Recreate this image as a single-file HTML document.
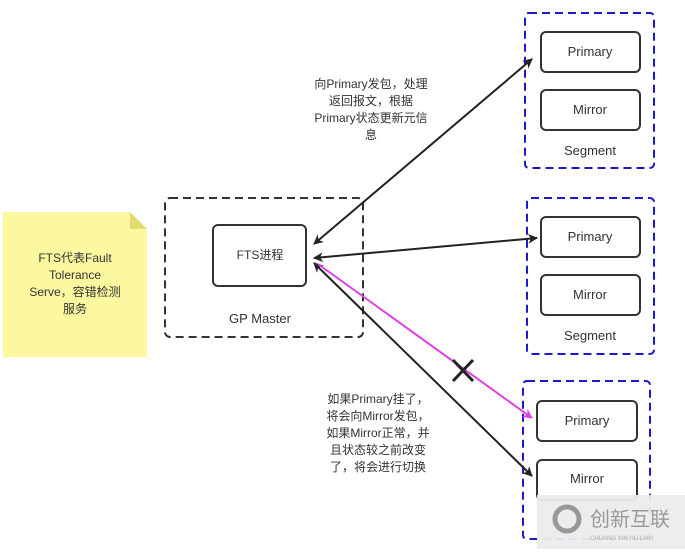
<!DOCTYPE html>
<html><head><meta charset="utf-8"><style>
body{margin:0;background:#fff;width:685px;height:549px;overflow:hidden}
svg text{font-family:"Liberation Sans","Noto Sans CJK SC",sans-serif;fill:#333}
</style></head><body>
<svg width="685" height="549" xmlns="http://www.w3.org/2000/svg">
<defs>
<marker id="ab" markerWidth="10" markerHeight="10" refX="9" refY="5" orient="auto" markerUnits="userSpaceOnUse"><path d="M0,0 L10,5 L0,10 L3,5z" fill="#222"/></marker>
<marker id="ap" markerWidth="10" markerHeight="10" refX="9" refY="5" orient="auto" markerUnits="userSpaceOnUse"><path d="M0,0 L10,5 L0,10 L3,5z" fill="#e040e0"/></marker>
<marker id="as" markerWidth="10" markerHeight="10" refX="1" refY="5" orient="auto" markerUnits="userSpaceOnUse"><path d="M10,0 L0,5 L10,10 L7,5z" fill="#222"/></marker>
</defs>
<!-- note -->
<path d="M3,212 H130 L147,229 V357 H3 Z" fill="#fbf8a0"/>
<path d="M130,212 V229 H147 Z" fill="#e0dc70"/>
<text font-size="12" text-anchor="middle"><tspan x="75" y="262">FTS代表Fault</tspan><tspan x="75" y="279">Tolerance</tspan><tspan x="75" y="296">Serve，容错检测</tspan><tspan x="75" y="313">服务</tspan></text>
<!-- GP master -->
<rect x="165" y="198" width="198" height="139" rx="5" fill="none" stroke="#333" stroke-width="2" stroke-dasharray="8,5"/>
<rect x="213" y="225" width="93" height="61" rx="5" fill="#fff" stroke="#333" stroke-width="2"/>
<text x="260" y="259" font-size="12" text-anchor="middle">FTS进程</text>
<text x="260" y="323" font-size="13" text-anchor="middle">GP Master</text>
<!-- segments -->
<g fill="none" stroke="#1a1acc" stroke-width="2" stroke-dasharray="8,5">
<rect x="525" y="13" width="129" height="155" rx="4"/>
<rect x="527" y="198" width="127" height="156" rx="4"/>
<rect x="523" y="381" width="127" height="158" rx="4"/>
</g>
<g fill="#fff" stroke="#333" stroke-width="2">
<rect x="541" y="32" width="99" height="40" rx="5"/>
<rect x="541" y="90" width="99" height="40" rx="5"/>
<rect x="541" y="217" width="99" height="40" rx="5"/>
<rect x="541" y="275" width="99" height="40" rx="5"/>
<rect x="537" y="401" width="100" height="40" rx="5"/>
<rect x="537" y="460" width="100" height="40" rx="5"/>
</g>
<g font-size="13" text-anchor="middle">
<text x="590" y="56">Primary</text><text x="590" y="114">Mirror</text><text x="590" y="155">Segment</text>
<text x="590" y="241">Primary</text><text x="590" y="299">Mirror</text><text x="590" y="340">Segment</text>
<text x="587" y="425">Primary</text><text x="587" y="483">Mirror</text>
</g>
<!-- arrows -->
<g stroke="#222" stroke-width="2" fill="none">
<line x1="314" y1="244" x2="532" y2="59" marker-start="url(#as)" marker-end="url(#ab)"/>
<line x1="314" y1="258" x2="537" y2="238" marker-start="url(#as)" marker-end="url(#ab)"/>
<line x1="314" y1="263" x2="532" y2="476" marker-start="url(#as)" marker-end="url(#ab)"/>
</g>
<line x1="318" y1="264" x2="532" y2="418" stroke="#e040e0" stroke-width="2" marker-end="url(#ap)"/>
<g stroke="#222" stroke-width="3"><line x1="453" y1="360" x2="473" y2="381"/><line x1="473" y1="360" x2="453" y2="381"/></g>
<g font-size="12" text-anchor="middle">
<text><tspan x="371" y="88">向Primary发包，处理</tspan><tspan x="371" y="105">返回报文，根据</tspan><tspan x="371" y="122">Primary状态更新元信</tspan><tspan x="371" y="139">息</tspan></text>
<text><tspan x="378" y="403">如果Primary挂了，</tspan><tspan x="378" y="420">将会向Mirror发包，</tspan><tspan x="378" y="437">如果Mirror正常，并</tspan><tspan x="378" y="454">且状态较之前改变</tspan><tspan x="378" y="471">了，将会进行切换</tspan></text>
</g>
<!-- watermark -->
<rect x="537" y="495" width="148" height="54" fill="#ececec" opacity="0.95"/>
<circle cx="567" cy="519" r="12" fill="none" stroke="#999" stroke-width="5"/>
<text x="590" y="526" font-size="20" style="fill:#999">创新互联</text>
<text x="590" y="540" font-size="6" style="fill:#aaa">CHUANG XIN HU LIAN</text>
</svg>
</body></html>
